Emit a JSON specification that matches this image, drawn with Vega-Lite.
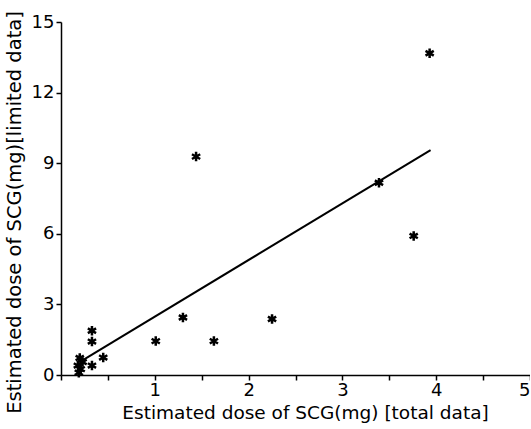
{
  "$schema": "https://vega.github.io/schema/vega-lite/v6.json",
  "autosize": {"type": "none"},
  "padding": {"left": 61, "top": 22, "right": 0, "bottom": 54},
  "width": 469,
  "height": 353,
  "background": "white",
  "config": {
    "view": {"stroke": null},
    "font": "DejaVu Sans",
    "axis": {
      "grid": false,
      "domainColor": "black",
      "domainWidth": 1.5,
      "tickColor": "black",
      "tickWidth": 1.5,
      "tickSize": 5,
      "labelColor": "black",
      "titleColor": "black",
      "labelFont": "DejaVu Sans",
      "titleFont": "DejaVu Sans",
      "labelFontSize": 18,
      "titleFontWeight": "normal"
    }
  },
  "layer": [
    {
      "data": {
        "values": [
          {"total": 3.93, "limited": 13.67},
          {"total": 3.39, "limited": 8.17},
          {"total": 3.76, "limited": 5.91},
          {"total": 1.44, "limited": 9.28},
          {"total": 1.3, "limited": 2.44},
          {"total": 1.01, "limited": 1.44},
          {"total": 1.63, "limited": 1.44},
          {"total": 2.25, "limited": 2.38},
          {"total": 0.33, "limited": 1.88},
          {"total": 0.33, "limited": 1.42},
          {"total": 0.45, "limited": 0.74},
          {"total": 0.33, "limited": 0.4},
          {"total": 0.2, "limited": 0.72},
          {"total": 0.23, "limited": 0.55},
          {"total": 0.18, "limited": 0.4},
          {"total": 0.21, "limited": 0.25},
          {"total": 0.19, "limited": 0.1}
        ]
      },
      "mark": {
        "type": "point",
        "shape": "M0,-1L0,1M-0.87,-0.5L0.87,0.5M-0.87,0.5L0.87,-0.5",
        "filled": false,
        "stroke": "black",
        "strokeWidth": 2.5,
        "size": 90,
        "opacity": 1
      },
      "encoding": {
        "x": {
          "field": "total",
          "type": "quantitative",
          "scale": {"domain": [0, 5], "nice": false, "zero": true},
          "axis": {
            "values": [0, 0.5, 1, 1.5, 2, 2.5, 3, 3.5, 4, 4.5, 5],
            "labelExpr": "datum.value > 0 && datum.value % 1 == 0 ? format(datum.value, 'd') : ''",
            "labelPadding": 1,
            "title": "Estimated  dose of SCG(mg) [total data]",
            "titleFontSize": 18.5,
            "titleX": 244,
            "titleY": 37,
            "titleBaseline": "middle",
            "titleAnchor": "middle",
            "titleAlign": "center"
          }
        },
        "y": {
          "field": "limited",
          "type": "quantitative",
          "scale": {"domain": [0, 15], "nice": false},
          "axis": {
            "values": [0, 1.5, 3, 4.5, 6, 7.5, 9, 10.5, 12, 13.5, 15],
            "labelExpr": "datum.value % 3 == 0 ? format(datum.value, 'd') : ''",
            "labelPadding": 2,
            "title": "Estimated  dose of SCG(mg)[limited data]",
            "titleFontSize": 19.5,
            "titleX": -47,
            "titleY": 190,
            "titleAngle": -90,
            "titleBaseline": "middle",
            "titleAlign": "center",
            "titleAnchor": "middle"
          }
        }
      }
    },
    {
      "data": {
        "values": [
          {"total": 0.22, "limited": 0.6},
          {"total": 3.94, "limited": 9.56}
        ]
      },
      "mark": {"type": "line", "color": "black", "strokeWidth": 2},
      "encoding": {
        "x": {"field": "total", "type": "quantitative"},
        "y": {"field": "limited", "type": "quantitative"}
      }
    }
  ]
}
